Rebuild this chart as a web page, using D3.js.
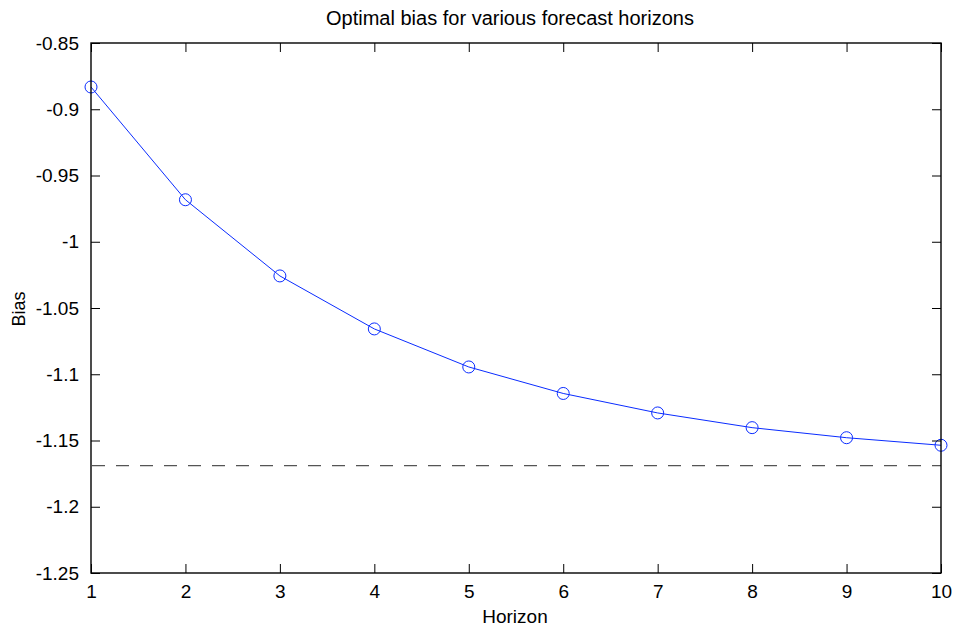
<!DOCTYPE html>
<html><head><meta charset="utf-8">
<script src="https://cdn.jsdelivr.net/npm/d3@7"></script>
<style>
html,body{margin:0;padding:0;background:#fff;}
text{font-family:"Liberation Sans",Arial,sans-serif;fill:#000;}
</style></head>
<body><svg id="c" width="956" height="628"></svg>
<script>
const horizons = [1,2,3,4,5,6,7,8,9,10];
const bias = [-0.8832,-0.9683,-1.0258,-1.0658,-1.0945,-1.1145,-1.1292,-1.1403,-1.1479,-1.1536];
const limitBias = -1.169;
const xTicks = [1,2,3,4,5,6,7,8,9,10];
const yTicks = [-0.85,-0.9,-0.95,-1,-1.05,-1.1,-1.15,-1.2,-1.25];
const titleText = "Optimal bias for various forecast horizons";
const xLabel = "Horizon";
const yLabel = "Bias";

const L=91,R=941,T=43,B=573;
const svg=d3.select("#c");
const x=d3.scaleLinear().domain([1,10]).range([L,R]);
const y=d3.scaleLinear().domain([-1.25,-0.85]).range([B,T]);
const fmt=d => String(d);

// dashed limit
svg.append("line").attr("x1",L+1).attr("x2",R).attr("y1",y(limitBias)).attr("y2",y(limitBias))
  .attr("stroke","#555").attr("stroke-width",1.2).attr("stroke-dasharray","13,11");

// line
svg.append("path").datum(horizons.map((h,i)=>[h,bias[i]]))
  .attr("d",d3.line().x(d=>x(d[0])).y(d=>y(d[1])))
  .attr("fill","none").attr("stroke","#0a2cff").attr("stroke-width",1);
svg.selectAll("circle.m").data(horizons.map((h,i)=>[h,bias[i]])).enter().append("circle")
  .attr("cx",d=>x(d[0])).attr("cy",d=>y(d[1])).attr("r",6)
  .attr("fill","none").attr("stroke","#0a2cff").attr("stroke-width",1);

// axes
const ax=(g,axis)=>{g.call(axis);g.select(".domain").remove();g.selectAll("line").attr("stroke","#000");};
svg.append("g").attr("transform",`translate(0,${B})`)
  .call(g=>ax(g,d3.axisBottom(x).tickValues(xTicks).tickFormat(fmt).tickSize(-9).tickPadding(12)))
  .selectAll("text").attr("font-size",19).attr("font-family","Liberation Sans, Arial, sans-serif");
svg.append("g").attr("transform",`translate(0,${T})`)
  .call(g=>ax(g,d3.axisTop(x).tickValues(xTicks).tickFormat("").tickSize(-9)));
svg.append("g").attr("transform",`translate(${L},0)`)
  .call(g=>ax(g,d3.axisLeft(y).tickValues(yTicks).tickFormat(fmt).tickSize(-9).tickPadding(12)))
  .selectAll("text").attr("font-size",19).attr("font-family","Liberation Sans, Arial, sans-serif");
svg.append("g").attr("transform",`translate(${R},0)`)
  .call(g=>ax(g,d3.axisRight(y).tickValues(yTicks).tickFormat("").tickSize(-9)));
svg.selectAll("g.tick text").attr("fill","#000");

svg.append("rect").attr("x",L).attr("y",T).attr("width",R-L).attr("height",B-T)
  .attr("fill","none").attr("stroke","#000").attr("stroke-width",1.4);

svg.append("text").attr("x",510).attr("y",25).attr("text-anchor","middle").attr("font-size",20).text(titleText);
svg.append("text").attr("x",515).attr("y",623).attr("text-anchor","middle").attr("font-size",19).text(xLabel);
svg.append("text").attr("transform","translate(25,309) rotate(-90)").attr("text-anchor","middle").attr("font-size",18).text(yLabel);
</script></body></html>
